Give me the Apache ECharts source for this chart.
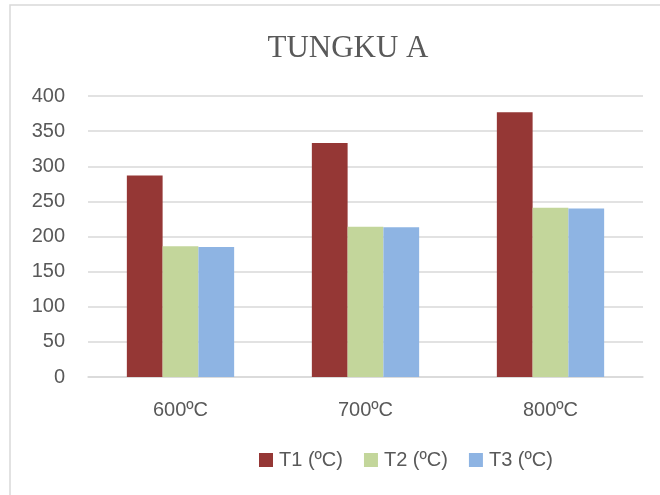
<!DOCTYPE html>
<html><head><meta charset="utf-8">
<script src="https://cdn.jsdelivr.net/npm/echarts@6/dist/echarts.min.js"></script>
<style>html,body{margin:0;padding:0;background:#fff}#c{width:660px;height:495px}</style>
</head><body><div id="c"></div>
<script>
const categories = ['600ºC', '700ºC', '800ºC'];
const seriesNames = ['T1 (ºC)', 'T2 (ºC)', 'T3 (ºC)'];
const t1 = [287, 333, 377];
const t2 = [186, 214, 241];
const t3 = [185, 213, 240];
const yTicks = {min: 0, max: 400, interval: 50};
const colors = ['#953735', '#c3d69b', '#8eb4e3'];
const txt = '#595959';
const chart = echarts.init(document.getElementById('c'));
chart.setOption({
  animation: false,
  graphic: [{type: 'rect', shape: {x: 10, y: 5, width: 660, height: 500}, style: {fill: 'none', stroke: '#d9d9d9', lineWidth: 1.5}, z: -1}],
  title: {text: 'TUNGKU A', left: 343, textAlign: 'center', top: 28,
    textStyle: {fontFamily: 'Liberation Serif', fontWeight: 'normal', fontSize: 31, color: txt}},
  legend: {left: 254, top: 445, itemWidth: 14, itemHeight: 14, itemGap: 21,
    icon: 'rect', textStyle: {fontFamily: 'Liberation Sans', fontSize: 20, color: txt, padding: [0,0,0,1]},
    data: seriesNames},
  grid: {left: 88, right: 17, top: 96, bottom: 118},
  xAxis: {type: 'category', data: categories,
    axisLine: {lineStyle: {color: '#d9d9d9', width: 1.5}}, axisTick: {show: false},
    axisLabel: {fontFamily: 'Liberation Sans', fontSize: 20, color: txt, margin: 23}},
  yAxis: {type: 'value', min: yTicks.min, max: yTicks.max, interval: yTicks.interval,
    axisLine: {show: false}, axisTick: {show: false},
    splitLine: {lineStyle: {color: '#d9d9d9', width: 1.5}},
    axisLabel: {fontFamily: 'Liberation Sans', fontSize: 20, color: txt, margin: 23}},
  series: [
    {name: seriesNames[0], type: 'bar', data: t1, itemStyle: {color: colors[0]}, barGap: '0%', barCategoryGap: '42%'},
    {name: seriesNames[1], type: 'bar', data: t2, itemStyle: {color: colors[1]}, barGap: '0%', barCategoryGap: '42%'},
    {name: seriesNames[2], type: 'bar', data: t3, itemStyle: {color: colors[2]}, barGap: '0%', barCategoryGap: '42%'}
  ]
});
</script></body></html>
